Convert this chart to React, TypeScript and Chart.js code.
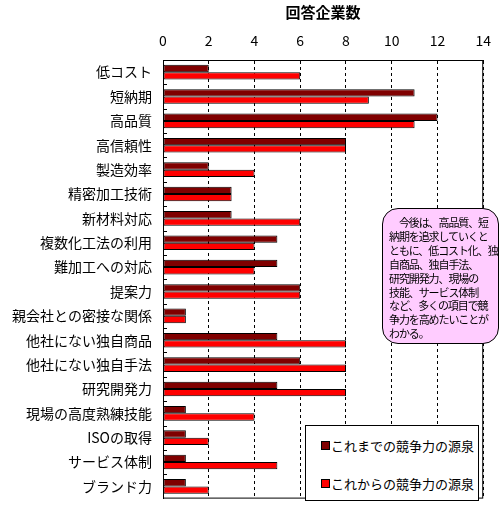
import { useEffect, useRef } from 'react';
import { Chart, registerables } from 'chart.js';

Chart.register(...registerables);

const categories = [
  '低コスト', '短納期', '高品質', '高信頼性', '製造効率', '精密加工技術',
  '新材料対応', '複数化工法の利用', '難加工への対応', '提案力', '親会社との密接な関係',
  '他社にない独自商品', '他社にない独自手法', '研究開発力', '現場の高度熟練技能',
  'ISOの取得', 'サービス体制', 'ブランド力',
];
const pastValues = [2, 11, 12, 8, 2, 3, 3, 5, 5, 6, 1, 5, 6, 5, 1, 1, 1, 1];
const futureValues = [6, 9, 11, 8, 4, 3, 6, 4, 4, 6, 1, 8, 8, 8, 4, 2, 5, 2];
const seriesLabels = ['これまでの競争力の源泉', 'これからの競争力の源泉'];
const seriesColors = ['#800000', '#ff0000'];
const noteLines = [
  '\u3000今後は、高品質、短',
  '納期を追求していくと',
  'ともに、低コスト化、独',
  '自商品、独自手法、',
  '研究開発力、現場の',
  '技能、サービス体制',
  'など、多くの項目で競',
  '争力を高めたいことが',
  'わかる。',
];

const FONT = '"Noto Sans CJK JP", "Noto Sans", sans-serif';

// frame + little category ticks on the left axis
const framePlugin = {
  id: 'frame',
  afterDraw(chart: any) {
    const { ctx, chartArea } = chart;
    const y = chart.scales.y;
    ctx.save();
    ctx.strokeStyle = '#000';
    ctx.lineWidth = 1;
    ctx.setLineDash([]);
    ctx.strokeRect(chartArea.left + 0.5, chartArea.top + 0.5, chartArea.right - chartArea.left - 1, chartArea.bottom - chartArea.top - 1);
    ctx.beginPath();
    for (let i = 1; i < categories.length; i++) {
      const py = Math.round((y.getPixelForValue(i - 1) + y.getPixelForValue(i)) / 2) + 0.5;
      ctx.moveTo(chartArea.left, py);
      ctx.lineTo(chartArea.left + 4, py);
    }
    ctx.stroke();
    ctx.restore();
  },
};

export default function App() {
  const chartRef = useRef<HTMLCanvasElement>(null);
  const chartInstance = useRef<Chart | null>(null);

  useEffect(() => {
    if (!chartRef.current) return;
    if (chartInstance.current) chartInstance.current.destroy();

    chartInstance.current = new Chart(chartRef.current, {
      type: 'bar',
      data: {
        labels: categories,
        datasets: [
          {
            label: seriesLabels[0],
            data: pastValues,
            backgroundColor: seriesColors[0],
            borderColor: '#000',
            borderWidth: 1,
            borderSkipped: false,
            categoryPercentage: 0.6,
            barPercentage: 1,
          },
          {
            label: seriesLabels[1],
            data: futureValues,
            backgroundColor: seriesColors[1],
            borderColor: '#000',
            borderWidth: 1,
            borderSkipped: false,
            categoryPercentage: 0.6,
            barPercentage: 1,
          },
        ],
      },
      options: {
        indexAxis: 'y',
        responsive: false,
        animation: false,
        layout: { padding: { left: 0, right: 15, top: 0, bottom: 6 } },
        plugins: {
          legend: { display: false },
          tooltip: { enabled: false },
        },
        scales: {
          x: {
            position: 'top',
            min: 0,
            max: 14,
            ticks: {
              stepSize: 2,
              color: '#000',
              padding: 11,
              font: { family: FONT, size: 14 },
            },
            grid: { color: '#000', drawTicks: false },
            border: { display: true, color: '#000', dash: [3, 3] },
            title: {
              display: true,
              text: '回答企業数',
              color: '#000',
              padding: { top: 3, bottom: 0 },
              font: { family: FONT, size: 15, weight: 'bold' },
            },
            afterFit: (scale: any) => { scale.height = 60; },
          },
          y: {
            ticks: {
              color: '#000',
              padding: 11,
              font: { family: FONT, size: 14 },
            },
            grid: { display: false, drawTicks: false },
            border: { display: true, color: '#000' },
            afterFit: (scale: any) => { scale.width = 163; },
          },
        },
      },
      plugins: [framePlugin],
    });

    return () => {
      if (chartInstance.current) {
        chartInstance.current.destroy();
        chartInstance.current = null;
      }
    };
  }, []);

  return (
    <div style={{ position: 'absolute', left: 0, top: 0, width: 502, height: 518, background: '#fff', overflow: 'hidden', fontFamily: FONT }}>
      <canvas ref={chartRef} width={502} height={518} style={{ display: 'block' }}></canvas>
      <div
        style={{
          position: 'absolute', left: 382, top: 208, width: 117, height: 136,
          background: '#ffccff', border: '1px solid #000', borderRadius: 16,
          fontSize: 11, lineHeight: '13.9px', padding: '7px 0 0 6px', boxSizing: 'border-box',
          whiteSpace: 'nowrap', color: '#000', letterSpacing: -1.1,
        }}
      >
        {noteLines.map((l, i) => (<div key={i}>{l}</div>))}
      </div>
      <div
        style={{
          position: 'absolute', left: 305, top: 425, width: 174, height: 76,
          background: '#fff', border: '1px solid #000', boxSizing: 'border-box',
          fontSize: 13, color: '#000', whiteSpace: 'nowrap',
        }}
      >
        {seriesLabels.map((l, i) => (
          <div key={i} style={{ position: 'absolute', left: 15, top: i === 0 ? 10 : 48, display: 'flex', alignItems: 'center', height: 18 }}>
            <span style={{ display: 'inline-block', width: 7, height: 7, background: seriesColors[i], border: '1px solid #000', marginRight: 1 }}></span>
            <span>{l}</span>
          </div>
        ))}
      </div>
    </div>
  );
}
